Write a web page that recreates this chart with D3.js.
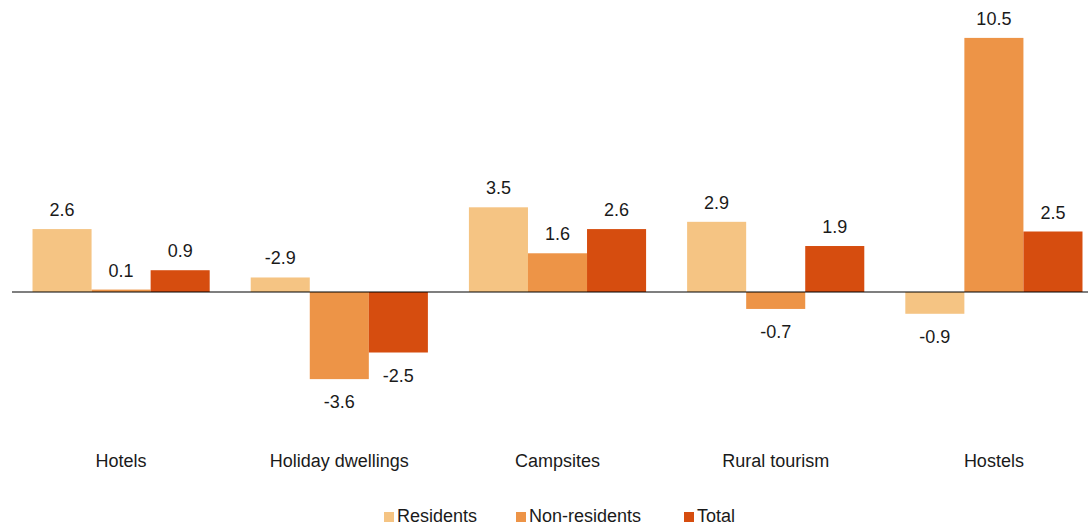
<!DOCTYPE html>
<html>
<head>
<meta charset="utf-8">
<script src="https://cdn.jsdelivr.net/npm/d3@7"></script>
<style>
  body { margin: 0; background: #fff; }
  text { font-family: "Liberation Sans", Arial, sans-serif; fill: #1a1a1a; }
</style>
</head>
<body>
<svg id="chart" width="1088" height="526"></svg>
<script>
var categories = ["Hotels", "Holiday dwellings", "Campsites", "Rural tourism", "Hostels"];
var seriesNames = ["Residents", "Non-residents", "Total"];
// bar heights as drawn in the picture
var residents = [2.6, 0.6, 3.5, 2.9, -0.9];
var nonResidents = [0.1, -3.6, 1.6, -0.7, 10.5];
var total = [0.9, -2.5, 2.6, 1.9, 2.5];
// printed labels (the holiday dwellings resident label reads -2.9 in the source)
var residentsLabels = ["2.6", "-2.9", "3.5", "2.9", "-0.9"];
var nonResidentsLabels = ["0.1", "-3.6", "1.6", "-0.7", "10.5"];
var totalLabels = ["0.9", "-2.5", "2.6", "1.9", "2.5"];

var colors = ["#F5C483", "#ED9447", "#D64D0F"];

var series = [
    { name: seriesNames[0], values: residents, labels: residentsLabels },
    { name: seriesNames[1], values: nonResidents, labels: nonResidentsLabels },
    { name: seriesNames[2], values: total, labels: totalLabels }
];

var svg = d3.select("#chart");

var x0 = d3.scaleBand()
    .domain(categories)
    .range([12, 1103])
    .paddingInner(0.188)
    .paddingOuter(0.094);

var x1 = d3.scaleBand()
    .domain(seriesNames)
    .range([0, x0.bandwidth()]);

var y = d3.scaleLinear()
    .domain([-5, 11])
    .range([413, 25.8]);

var groups = svg.selectAll("g.cat")
    .data(categories)
    .enter().append("g")
    .attr("class", "cat")
    .attr("transform", function (d) { return "translate(" + x0(d) + ",0)"; });

series.forEach(function (s, si) {
    groups.append("rect")
        .attr("x", x1(s.name))
        .attr("width", x1.bandwidth())
        .attr("y", function (d, i) { return y(Math.max(0, s.values[i])); })
        .attr("height", function (d, i) { return Math.abs(y(s.values[i]) - y(0)); })
        .style("fill", colors[si]);

    groups.append("text")
        .attr("x", x1(s.name) + x1.bandwidth() / 2)
        .attr("y", function (d, i) {
            var v = s.values[i];
            return v >= 0 ? y(v) - 13 : y(v) + 29;
        })
        .attr("text-anchor", "middle")
        .style("font-size", "18px")
        .text(function (d, i) { return s.labels[i]; });
});

// zero line
svg.append("line")
    .attr("x1", 12)
    .attr("x2", 1088)
    .attr("y1", y(0))
    .attr("y2", y(0))
    .style("stroke", "#000")
    .style("stroke-width", 1.2);

// category labels
svg.selectAll("text.catlabel")
    .data(categories)
    .enter().append("text")
    .attr("class", "catlabel")
    .attr("x", function (d) { return x0(d) + x0.bandwidth() / 2; })
    .attr("y", 467)
    .attr("text-anchor", "middle")
    .style("font-size", "18px")
    .text(function (d) { return d; });

// legend
var legendX = [384, 516, 684];
var legend = svg.selectAll("g.legend")
    .data(seriesNames)
    .enter().append("g")
    .attr("class", "legend")
    .attr("transform", function (d, i) { return "translate(" + legendX[i] + ",512)"; });

legend.append("rect")
    .attr("width", 10)
    .attr("height", 10)
    .style("fill", function (d, i) { return colors[i]; });

legend.append("text")
    .attr("x", 13)
    .attr("y", 10)
    .style("font-size", "18px")
    .text(function (d) { return d; });
</script>
</body>
</html>
